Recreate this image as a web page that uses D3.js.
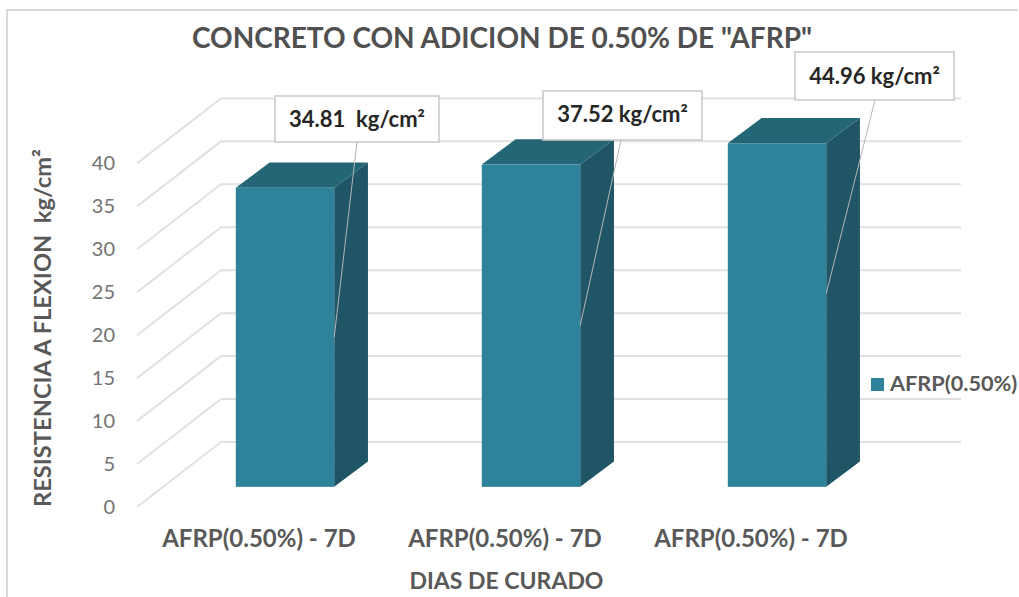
<!DOCTYPE html>
<html>
<head>
<meta charset="utf-8">
<script src="https://cdn.jsdelivr.net/npm/d3@7/dist/d3.min.js"></script>
<style>
  html, body { margin: 0; padding: 0; background: #fff; }
  svg { display: block; }
  text { font-family: Lato, "Open Sans", sans-serif; }
</style>
</head>
<body>
<svg id="chart" width="1019" height="597"></svg>
<script>
// Flexural strength of concrete with 0.50% AFRP
const categories = ["AFRP(0.50%) - 7D", "AFRP(0.50%) - 7D", "AFRP(0.50%) - 7D"];
const values = [34.81, 37.52, 44.96];
const calloutLabels = ["34.81  kg/cm²", "37.52 kg/cm²", "44.96 kg/cm²"];
const yTicks = [0, 5, 10, 15, 20, 25, 30, 35, 40];
const seriesName = "AFRP(0.50%)";
const chartTitle = 'CONCRETO CON ADICION DE 0.50% DE "AFRP"';
const xTitle = "DIAS DE CURADO";
const yTitle = "RESISTENCIA A FLEXION  kg/cm²";

// Excel-style oblique 3D box: the floor runs back by depthX / depthY
const depthX = 84, depthY = 65;
const floorLeft = 137, floorRight = 877, floorFront = 507;
const barNear = 0.31, barFar = 0.70;

const svg = d3.select("#chart");

const yRaw = d3.scaleLinear().domain([0, 40]).range([0, 343.6]);
// columns are cut off at the axis maximum, leader lines are not
const yClamped = d3.scaleLinear().domain([0, 40]).range([0, 343.6]).clamp(true);

const x = d3.scaleBand()
  .domain(d3.range(categories.length))
  .range([floorLeft + 25, floorRight + 23])
  .paddingInner(0.6)
  .paddingOuter(0.3);

// chart frame
svg.append("path")
  .attr("d", "M7,597V10H1018")
  .attr("fill", "none").attr("stroke", "#d9d9d9").attr("stroke-width", 2);

// gridlines: side wall + back wall
svg.append("g").selectAll("path").data(yTicks).join("path")
  .attr("fill", "none").attr("stroke", "#e1e1e1").attr("stroke-width", 2)
  .attr("d", d => {
    const yf = floorFront - yRaw(d);
    return d3.line()([[floorLeft, yf], [floorLeft + depthX, yf - depthY], [floorRight + depthX, yf - depthY]]);
  });

// y tick labels
svg.append("g").selectAll("text").data(yTicks).join("text")
  .attr("x", 115).attr("y", d => floorFront - yRaw(d) + 7)
  .attr("text-anchor", "end").attr("font-size", 20).attr("fill", "#737373")
  .text(d => d);

// columns
const bars = svg.append("g").selectAll("g").data(values).join("g");
const front = floorFront - depthY * barNear;
const dx = depthX * (barFar - barNear) + 1, dy = depthY * (barFar - barNear);

bars.each(function (v, i) {
  const g = d3.select(this);
  const x0 = x(i), x1 = x0 + x.bandwidth();
  const top = front - yClamped(v);
  g.append("path").attr("fill", "#1f5565")
    .attr("d", d3.line()([[x1, front], [x1 + dx, front - dy], [x1 + dx, top - dy], [x1, top]]) + "Z");
  g.append("path").attr("fill", "#256676")
    .attr("d", d3.line()([[x0, top], [x0 + dx, top - dy], [x1 + dx, top - dy], [x1, top]]) + "Z");
  g.append("rect").attr("fill", "#2e8299")
    .attr("x", x0).attr("y", top).attr("width", x.bandwidth()).attr("height", front - top);
});

// callouts with leader lines, anchored at half of each column's value
const boxes = [
  { x: 275, y: 96, w: 164, h: 46, lx: 357, ty: 127 },
  { x: 543, y: 91, w: 159, h: 49, lx: 621, ty: 122 },
  { x: 795, y: 52, w: 159, h: 48, lx: 875, ty: 84 }
];
const callouts = svg.append("g").selectAll("g").data(values).join("g");
callouts.each(function (v, i) {
  const g = d3.select(this), b = boxes[i];
  g.append("line")
    .attr("x1", b.lx).attr("y1", b.y + b.h)
    .attr("x2", x(i) + x.bandwidth()).attr("y2", front - yRaw(v) / 2)
    .attr("stroke", "#b5b5b5").attr("stroke-width", 1);
  g.append("rect")
    .attr("x", b.x).attr("y", b.y).attr("width", b.w).attr("height", b.h)
    .attr("fill", "#fff").attr("stroke", "#c8c8c8").attr("stroke-width", 1.5);
  g.append("text")
    .attr("x", b.x + b.w / 2).attr("y", b.ty)
    .attr("text-anchor", "middle").attr("font-size", 22).attr("font-weight", 700)
    .attr("fill", "#262626").style("white-space", "pre")
    .text(calloutLabels[i]);
});

// category labels
svg.append("g").selectAll("text").data(categories).join("text")
  .attr("x", (d, i) => x(i) + x.bandwidth() / 2 - 26).attr("y", 547)
  .attr("text-anchor", "middle").attr("font-size", 24).attr("font-weight", 700)
  .attr("fill", "#595959").text(d => d);

// titles
svg.append("text").attr("x", 502).attr("y", 48)
  .attr("text-anchor", "middle").attr("font-size", 28).attr("font-weight", 700)
  .attr("fill", "#505050").text(chartTitle);
svg.append("text").attr("x", 506.5).attr("y", 589)
  .attr("text-anchor", "middle").attr("font-size", 23).attr("font-weight", 700)
  .attr("fill", "#595959").text(xTitle);
svg.append("text").attr("transform", "translate(51,328) rotate(-90)")
  .attr("text-anchor", "middle").attr("font-size", 23.7).attr("font-weight", 700)
  .attr("fill", "#595959").style("white-space", "pre").text(yTitle);

// legend
svg.append("rect").attr("x", 871).attr("y", 378).attr("width", 13).attr("height", 13).attr("fill", "#2e8299");
svg.append("text").attr("x", 890).attr("y", 391).attr("font-size", 21.7).attr("font-weight", 700)
  .attr("fill", "#595959").text(seriesName);
</script>
</body>
</html>
